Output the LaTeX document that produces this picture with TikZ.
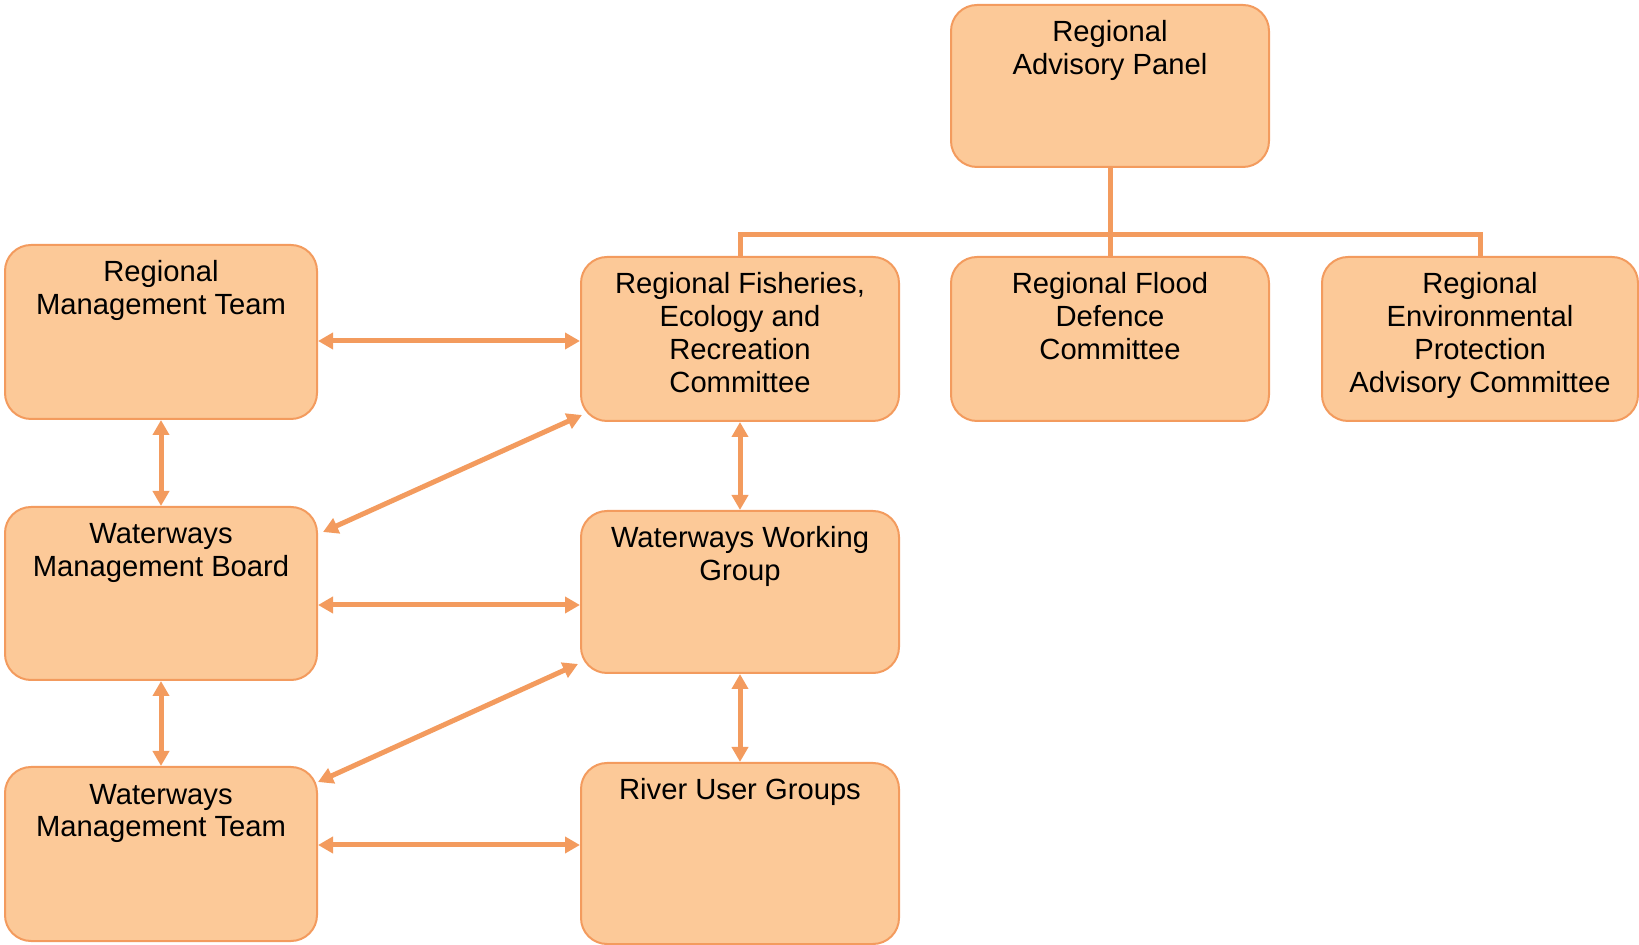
\documentclass[tikz,border=0pt]{standalone}
\usepackage{fontspec}
\setmainfont{Liberation Sans}
\usepackage{tikz}
\usetikzlibrary{arrows.meta}
\usetikzlibrary{calc}
\usetikzlibrary{positioning}
\definecolor{boxfill}{RGB}{252,201,152}
\definecolor{boxline}{RGB}{243,155,94}

\begin{document}
\begin{tikzpicture}[x=0.5pt,y=-0.5pt]
        \tikzstyle{panel}=[rectangle, rounded corners=13pt, draw=boxline, line width=1pt, fill=boxfill, inner sep=0pt, font=\fontsize{14.6}{16.5}\selectfont]
        \tikzstyle{link}=[draw=boxline, line width=2.5pt, {Triangle[length=7.5pt,width=8pt]}-{Triangle[length=7.5pt,width=8pt]}]
        \tikzstyle{bus}=[draw=boxline, line width=2.5pt]

        \newcommand{\txt}[3]{\parbox[c][#2][t]{#1}{\centering\rule{0pt}{18.5pt}#3}}

        \useasboundingbox (0,0) rectangle (1639,945);

        \node (rap) at (1110,86) [panel]{\txt{159pt}{81pt}{Regional\\Advisory Panel}};

        \node (rmt) at (161,332) [panel]{\txt{156pt}{87pt}{Regional\\Management Team}};
        \node (rfe) at (740,339) [panel]{\txt{159pt}{82pt}{Regional Fisheries,\\Ecology and\\Recreation\\Committee}};
        \node (rfd) at (1110,339) [panel]{\txt{159pt}{82pt}{Regional Flood\\Defence\\Committee}};
        \node (rep) at (1480,339) [panel]{\txt{158pt}{82pt}{Regional\\Environmental\\Protection\\Advisory Committee}};

        \node (wmb) at (161,593.5) [panel]{\txt{156pt}{86.5pt}{Waterways\\Management Board}};
        \node (wwg) at (740,592) [panel]{\txt{159pt}{81pt}{Waterways Working\\Group}};

        \node (wmt) at (161,854) [panel]{\txt{156pt}{87pt}{Waterways\\Management Team}};
        \node (rug) at (740,853.5) [panel]{\txt{159pt}{90.5pt}{River User Groups}};

        % advisory panel to its committees
        \coordinate (hub) at ($(rap.south)+(0,67)$);
        \draw[bus] (rap.south) -- (rfd.north);
        \draw[bus] (rfe.north) |- (hub) -| (rep.north);

        % two way links
        \draw[link] ($(rmt.east |- rfe.west)+(0,2)$) -- ($(rfe.west)+(0,2)$);
        \draw[link] ($(wmb.east |- wwg.west)+(0,13)$) -- ($(wwg.west)+(0,13)$);
        \draw[link] ($(wmt.east |- rug.west)+(0,-8.5)$) -- ($(rug.west)+(0,-8.5)$);

        \draw[link] (rmt) -- (wmb);
        \draw[link] (wmb) -- (wmt);
        \draw[link] (rfe) -- (wwg);
        \draw[link] (wwg) -- (rug);

        \draw[link] ($(wmb.north east)+(5,26)$) -- ($(rfe.south west)+(2,-7)$);
        \draw[link] ($(wmt.north east)+(0,16)$) -- ($(wwg.south west)+(-2,-10)$);
\end{tikzpicture}
\end{document}
